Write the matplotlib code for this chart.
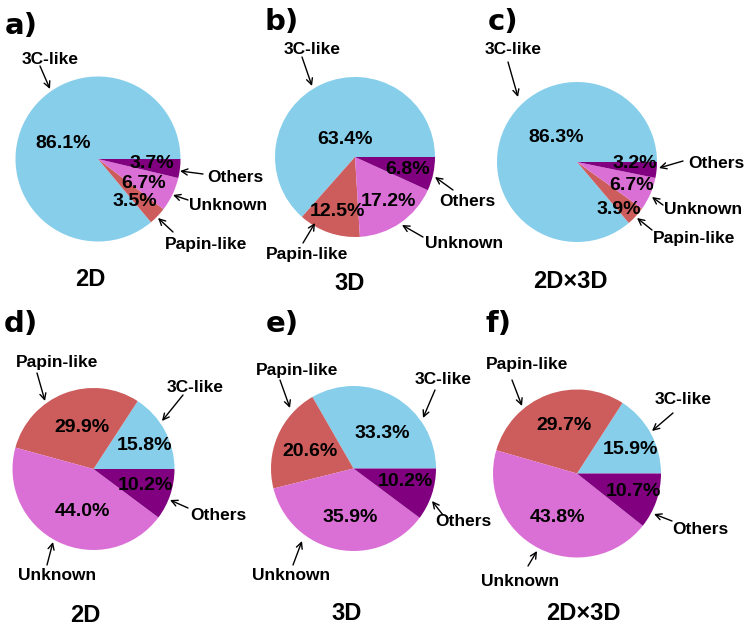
import matplotlib
matplotlib.use("Agg")
import matplotlib.pyplot as plt

# ---------------- data ----------------
categories = ["3C-like", "Papin-like", "Unknown", "Others"]
vals_a = [86.1, 3.5, 6.7, 3.7]
vals_b = [63.4, 12.5, 17.2, 6.8]
vals_c = [86.3, 3.9, 6.7, 3.2]
vals_d = [15.8, 29.9, 44.0, 10.2]
vals_e = [33.3, 20.6, 35.9, 10.2]
vals_f = [15.9, 29.7, 43.8, 10.7]
panel_letters = ["a)", "b)", "c)", "d)", "e)", "f)"]
panel_titles = ["2D", "3D", "2D×3D", "2D", "3D", "2D×3D"]

colors = ["#87CEEB", "#CD5C5C", "#DA70D6", "#800080"]

# ---------------- layout (pixel coords, y downward) ----------------
W, H = 750, 638
layout = [
    dict(vals=vals_a, c=(98, 159), r=82.5, letter=(21, 26), title=(90, 280),
         pct=[(63, 143), (135, 202), (144, 183), (152, 163)],
         lab=[((50, 59), (40, 66), (50, 89), "center"),
              ((165, 245), (173, 232), (158, 218), "left"),
              ((189, 205), (188, 200), (173, 195), "left"),
              ((207, 178), (203, 174), (180, 171), "left")]),
    dict(vals=vals_b, c=(355, 157), r=80, letter=(282, 22), title=(350, 283),
         pct=[(345, 139), (337, 212), (388, 202), (408, 170)],
         lab=[((312, 50), (302, 57), (312, 86), "center"),
              ((307, 255), (303, 243), (315, 223), "center"),
              ((425, 243), (423, 237), (402, 225), "left"),
              ((439, 201), (453, 190), (435, 177), "left")]),
    dict(vals=vals_c, c=(577, 162), r=80, letter=(503, 22), title=(570, 282),
         pct=[(556, 138), (619, 210), (632, 185), (635, 163)],
         lab=[((513, 50), (508, 62), (518, 97), "center"),
              ((653, 239), (652, 230), (637, 218), "left"),
              ((664, 210), (663, 205), (652, 197), "left"),
              ((688, 163), (683, 161), (659, 168), "left")]),
    dict(vals=vals_d, c=(93.5, 469), r=81, letter=(21, 324), title=(85, 615),
         pct=[(145, 446), (82, 428), (82, 511), (145, 485)],
         lab=[((195, 388), (183, 395), (162, 421), "center"),
              ((57, 363), (37, 373), (45, 401), "center"),
              ((57, 575), (47, 565), (53, 542), "center"),
              ((190, 515), (188, 508), (170, 500), "left")]),
    dict(vals=vals_e, c=(353.5, 468.5), r=82.5, letter=(282, 324), title=(347, 613),
         pct=[(382, 433), (310, 451), (350, 517), (405, 481)],
         lab=[((443, 379), (435, 390), (423, 418), "center"),
              ((297, 370), (280, 380), (290, 408), "center"),
              ((291, 575), (293, 565), (302, 541), "center"),
              ((435, 522), (443, 515), (432, 501), "left")]),
    dict(vals=vals_f, c=(577, 473.5), r=84, letter=(499, 324), title=(583, 613),
         pct=[(630, 450), (564, 425), (557, 518), (633, 492)],
         lab=[((683, 400), (673, 413), (652, 431), "center"),
              ((527, 365), (512, 380), (522, 406), "center"),
              ((520, 581), (528, 566), (537, 551), "center"),
              ((672, 530), (672, 521), (654, 514), "left")]),
]


def P(x, y):
    return (x, H - y)


FONT = "Liberation Sans"
fig = plt.figure(figsize=(7.5, 6.38), dpi=100)
ax = fig.add_axes([0, 0, 1, 1])

for i, L in enumerate(layout):
    vals = L["vals"]
    ax.pie(vals, colors=colors, startangle=0, counterclock=True,
           center=P(*L["c"]), radius=L["r"],
           wedgeprops=dict(linewidth=0))
    for v, pos in zip(vals, L["pct"]):
        ax.text(*P(*pos), f"{v:.1f}%", ha="center", va="center",
                fontsize=14, fontweight="bold", family=FONT, color="black")
    for name, (tpos, tail, head, ha) in zip(categories, L["lab"]):
        ax.text(*P(*tpos), name, ha=ha, va="center", fontsize=12.5,
                fontweight="bold", family=FONT, color="black")
        ax.annotate("", xy=P(*head), xytext=P(*tail),
                    arrowprops=dict(arrowstyle="->", lw=1.0, color="black",
                                    mutation_scale=11, shrinkA=0, shrinkB=0))
    ax.text(*P(*L["letter"]), panel_letters[i], ha="center", va="center",
            fontsize=21, fontweight="bold", family="DejaVu Sans")
    ax.text(*P(*L["title"]), panel_titles[i], ha="center", va="center",
            fontsize=17, fontweight="bold", family=FONT)

ax.set_xlim(0, W)
ax.set_ylim(0, H)
ax.set_aspect("equal")
ax.axis("off")
fig.savefig("out.png", dpi=100, facecolor="white")
